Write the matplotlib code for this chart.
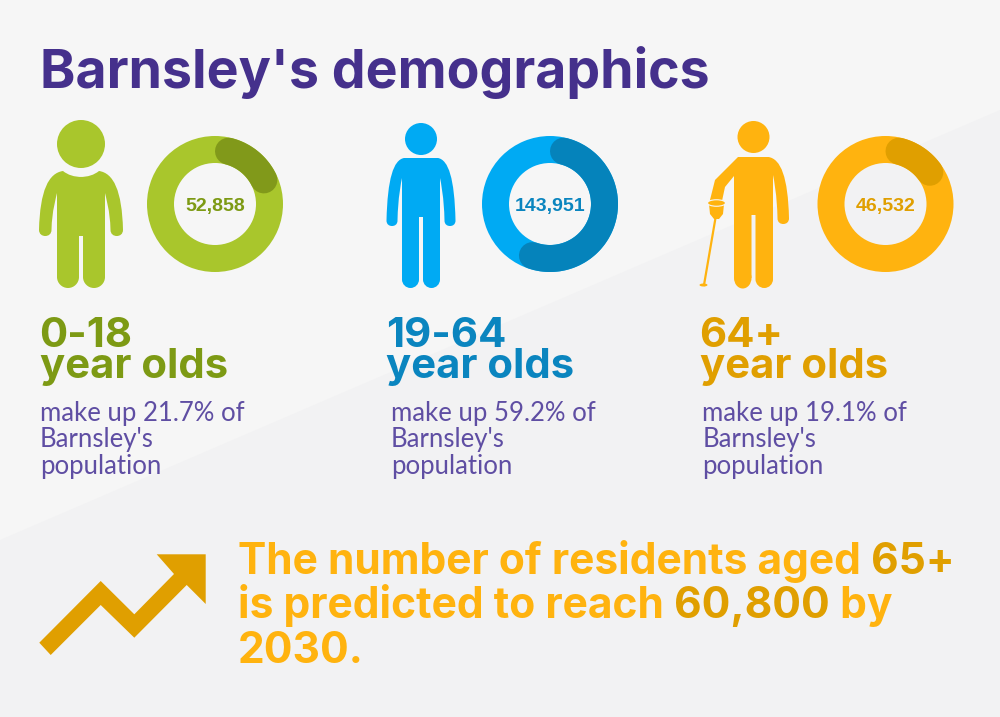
import numpy as np
import matplotlib
matplotlib.use("Agg")
import matplotlib.pyplot as plt
from matplotlib.patches import Wedge, Circle, PathPatch, Polygon, Ellipse
from matplotlib.path import Path

# ---- data ----
title = "Barnsley's demographics"
age_groups = ["0-18", "19-64", "64+"]
populations = ["52,858", "143,951", "46,532"]
shares = [21.7, 59.2, 19.1]
body_lines = [["make up 21.7% of", "Barnsley's", "population"],
              ["make up 59.2% of", "Barnsley's", "population"],
              ["make up 19.1% of", "Barnsley's", "population"]]
callout_lines = [[("The number of residents aged ", 0), ("65+", 1)],
                 [("is predicted to reach ", 0), ("60,800", 1), (" by", 0)],
                 [("2030.", 0)]]

# ---- style ----
PURPLE = "#45308c"; BODY = "#5f4ea3"
LIGHT = ["#a9c62c", "#00aaf3", "#ffb30f"]
DARK = ["#81991a", "#0583bb", "#e09f00"]
LABEL = ["#7d9a14", "#0a85bf", "#e09f00"]
HEAD = "Inter"
TEXT = "Lato"

fig = plt.figure(figsize=(10, 7.17), dpi=100, facecolor="#f6f6f6")
ax = fig.add_axes([0, 0, 1, 1])
ax.set_xlim(0, 1000); ax.set_ylim(717, 0); ax.axis("off")
ax.add_patch(Polygon([(0, 540), (1000, 110), (1000, 717), (0, 717)], fc="#f2f2f3", ec="none", zorder=0))
renderer = fig.canvas.get_renderer()


def width(s, size, weight, fam):
    t = ax.text(0, 0, s + "|", fontsize=size, family=fam, fontweight=weight)
    w1 = t.get_window_extent(renderer).width
    t.set_text("|")
    w2 = t.get_window_extent(renderer).width
    t.remove()
    return w1 - w2


def fit(s, target, weight, fam):
    return 20 * target / width(s, 20, weight, fam)


def T(x, y, s, size, color, weight="normal", fam=TEXT, **kw):
    ax.text(x, y, s, fontsize=size, color=color, fontweight=weight, family=fam,
            ha="left", va="baseline", zorder=6, **kw)


def half(cx, sign, top, dip, sw, ao, ai, tw, pit, hand, gaptop, bottom, gap=2):
    X = lambda d: cx + sign * d
    aw = ao - ai
    legw = tw - gap
    k = 0.55
    lc = gap + legw / 2
    v = [(X(-1), top + dip), (X(sw * .6), top + dip), (X(sw), top),
         (X(sw + (ao - sw) * .6), top + 2), (X(ao - 1), top + (hand - top) * .3), (X(ao), hand - aw / 2),
         (X(ao), hand - aw / 2 + aw * k / 2 + 1), (X(ai + aw * .75), hand), (X(ai + aw / 2), hand),
         (X(ai + aw * .25), hand), (X(ai), hand - aw / 2 + aw * k / 2 + 1), (X(ai), hand - aw / 2),
         (X(ai - .5), pit + (hand - pit) * .4), (X(tw + 1), pit + 5), (X(tw), pit),
         (X(tw), bottom - legw / 2),
         (X(tw), bottom - legw / 2 * (1 - k)), (X(lc + legw / 2 * k), bottom), (X(lc), bottom),
         (X(lc - legw / 2 * k), bottom), (X(gap), bottom - legw / 2 * (1 - k)), (X(gap), bottom - legw / 2),
         (X(gap), gaptop), (X(-1), gaptop), (X(-1), top + dip)]
    c = [Path.MOVETO, Path.CURVE3, Path.CURVE3] + [Path.CURVE4] * 12 + [Path.LINETO] + [Path.CURVE4] * 6 + \
        [Path.LINETO, Path.LINETO, Path.CLOSEPOLY]
    return Path(v, c)


def add(path, col):
    ax.add_patch(PathPatch(path, fc=col, ec="none", zorder=3))


# green child
c = LIGHT[0]; cx = 81
ax.add_patch(Circle((cx, 144), 24, fc=c, ec="none", zorder=3))
for s in (1, -1):
    add(half(cx, s, 171, 6, 18, 42, 29.5, 24, 193, 236, 236, 288), c)
# blue adult
c = LIGHT[1]; cx = 421
ax.add_patch(Circle((cx, 139), 16, fc=c, ec="none", zorder=3))
for s in (1, -1):
    add(half(cx, s, 158, 0, 17, 34.5, 23.5, 19, 178, 226, 217, 288), c)
# orange older adult with stick
c = LIGHT[2]; cx = 753.5
ax.add_patch(Circle((cx, 137), 16, fc=c, ec="none", zorder=3))
add(half(cx, 1, 157, 0, 15, 35.5, 24, 19.5, 175, 224, 215, 288), c)
legw = 17.5
L = cx - 2 - legw / 2
ax.add_patch(Polygon([(cx + 1, 157), (738, 157), (715, 180), (710, 200), (722, 201), (725, 187),
                      (734, 176), (734, 278), (cx - 2, 278), (cx - 2, 215), (cx + 1, 215)],
                     fc=c, ec="none", zorder=3))
ax.add_patch(Ellipse((L, 278), legw, 21, fc=c, ec="none", zorder=3))
ax.add_patch(Polygon([(709, 204), (724, 204), (723, 214), (719, 219), (714, 219), (710, 214)], fc=c, ec="none", zorder=3))
ax.add_patch(Ellipse((716.5, 203), 18, 6.5, fc=c, ec="#f7f7f7", lw=0.8, zorder=4))
ax.plot([715.5, 704], [218, 285], color=c, lw=1.6, zorder=3)
ax.add_patch(Ellipse((703.5, 285), 8, 3, fc=c, ec="none", zorder=3))

# donuts
centers = [215, 550, 885.5]
cy, R, r = 204, 68, 41
mid = (R + r) / 2
cap = np.degrees(np.arcsin((R - r) / 2 / mid))
for i, x in enumerate(centers):
    ax.add_patch(Wedge((x, cy), R, 0, 360, width=R - r, fc=LIGHT[i], ec="none", zorder=3))
    a = np.radians(np.linspace(cap, shares[i] * 3.6 - cap, 120))
    ax.plot(x + mid * np.sin(a), cy - mid * np.cos(a), color=DARK[i], lw=(R - r) * 0.72,
            solid_capstyle="round", zorder=4)
    ax.text(x, cy, populations[i], fontsize=14, fontweight="bold", family="Liberation Sans",
            color=LABEL[i], ha="center", va="center_baseline", zorder=5)

# text
T(40, 88, title, fit(title, 672, "bold", HEAD), PURPLE, "bold", HEAD)
big = fit("year olds", 189, "bold", HEAD)
small = fit(body_lines[0][0], 205, "normal", TEXT)
for i, (xh, xb) in enumerate(zip([39.5, 386.5, 699.5], [40, 391, 702.5])):
    T(xh, 378, age_groups[i] + "\nyear olds", big, LABEL[i], "bold", HEAD, linespacing=0.78)
    for j, line in enumerate(body_lines[i]):
        T(xb, 421 + j * 26.5, line, small, BODY)

size = fit("".join(s for s, _ in callout_lines[0]), 719, "bold", HEAD)
for yb, runs in zip([574, 618, 663], callout_lines):
    x = 238
    for s, dark in runs:
        T(x, yb, s, size, DARK[2] if dark else LIGHT[2], "bold", HEAD)
        x += width(s, size, "bold", HEAD)

# arrow icon
ax.add_patch(Polygon([(156.7, 554.3), (205.7, 554.3), (205.7, 604), (186.7, 585), (134.3, 637.7), (100.7, 605),
                      (50.7, 655), (39.3, 642.7), (100.7, 581), (134.3, 614.3), (174, 574)],
                     fc=DARK[2], ec="none", zorder=3))

fig.savefig("out.png", dpi=100, facecolor=fig.get_facecolor())
